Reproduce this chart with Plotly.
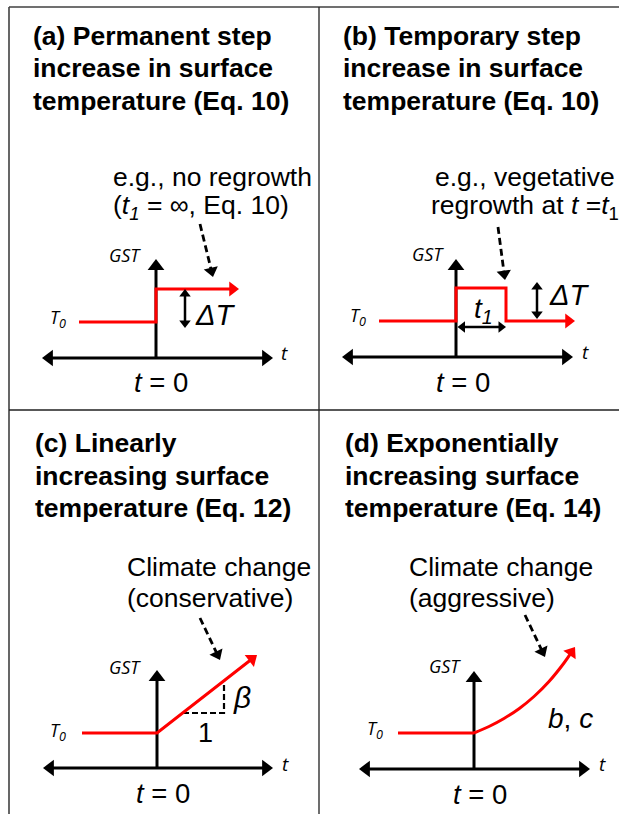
import math
import plotly.graph_objects as go

W, H = 619, 814
S = 100.0  # pixels per schematic unit (same in both directions)

# ---------------- data (schematic units: t along x, GST along y; origin = t=0 on the t-axis)
# axis extents per panel: (t_left, t_right, gst_top)
axis_a = (-1.14, 1.17, 0.99)
axis_b = (-1.14, 1.17, 0.98)
axis_c = (-1.14, 1.16, 0.98)
axis_d = (-1.15, 1.16, 0.98)

# (a) permanent step
a_t = [-0.77, 0.0, 0.0, 0.83]
a_gst = [0.36, 0.36, 0.69, 0.69]
a_dT_t = [0.29, 0.29]
a_dT_gst = [0.69, 0.30]
a_note_t = [0.44, 0.57]
a_note_gst = [1.34, 0.81]

# (b) temporary step
b_t = [-0.77, 0.0, 0.0, 0.50, 0.50, 1.19]
b_gst = [0.36, 0.36, 0.69, 0.69, 0.36, 0.36]
b_dT_t = [0.81, 0.81]
b_dT_gst = [0.75, 0.38]
b_t1_t = [0.015, 0.50]
b_t1_gst = [0.30, 0.30]
b_note_t = [0.42, 0.49]
b_note_gst = [1.30, 0.77]

# (c) linear increase
c_t = [-0.75, 0.0, 1.00]
c_gst = [0.35, 0.35, 1.13]
c_slope_t = [0.26, 0.67, 0.67]
c_slope_gst = [0.55, 0.55, 0.87]
c_note_t = [0.43, 0.63]
c_note_gst = [1.50, 1.08]

# (d) exponential increase
d_flat_t = [-0.76, 0.0]
d_flat_gst = [0.36, 0.36]
d_curve_t = [0.0, 0.15, 0.30, 0.45, 0.60, 0.75, 0.90, 1.01]
d_curve_gst = [0.36, 0.425, 0.505, 0.603, 0.725, 0.875, 1.06, 1.22]
d_note_t = [0.51, 0.71]
d_note_gst = [1.54, 1.12]

# ---------------- layout helpers
# panel: axis suffix, origin pixel (t=0, GST=0), cell in pixels (x0, x1, y0, y1)
panels = {
    "a": ("", (156, 358), (9, 319, 7, 410)),
    "b": ("2", (456, 357), (319, 619, 7, 410)),
    "c": ("3", (157, 768), (9, 319, 410, 814)),
    "d": ("4", (474, 769), (319, 619, 410, 814)),
}

RED = "#FF0000"
BLACK = "#000000"
ARIAL = "Liberation Sans, Arial, sans-serif"
SEGOE = "Open Sans, DejaVu Sans, sans-serif"

fig = go.Figure()


def _tip_center(tip, prev, size):
    dx, dy = tip[0] - prev[0], tip[1] - prev[1]
    L = math.hypot(dx, dy)
    ux, uy = dx / L, dy / L
    r = size / 2.0 / S
    return (tip[0] - ux * r, tip[1] - uy * r), math.degrees(math.atan2(ux, uy))


def arrow(panel, xs, ys, color, width, head, both=False, dash="solid", shape="linear"):
    suf = panels[panel][0]
    xs, ys = list(xs), list(ys)
    lx, ly = xs[:], ys[:]
    mx, my, ang = [], [], []
    (cx, cy), a = _tip_center((xs[-1], ys[-1]), (xs[-2], ys[-2]), head)
    lx[-1], ly[-1] = cx, cy
    mx.append(cx); my.append(cy); ang.append(a)
    if both:
        (sx, sy), a0 = _tip_center((xs[0], ys[0]), (xs[1], ys[1]), head)
        lx[0], ly[0] = sx, sy
        mx.append(sx); my.append(sy); ang.append(a0)
    fig.add_trace(go.Scatter(x=lx, y=ly, mode="lines", xaxis="x" + suf, yaxis="y" + suf,
                             line=dict(color=color, width=width, dash=dash, shape=shape),
                             hoverinfo="skip", showlegend=False))
    fig.add_trace(go.Scatter(x=mx, y=my, mode="markers", xaxis="x" + suf, yaxis="y" + suf,
                             marker=dict(symbol="triangle-up", size=head, angle=ang, color=color,
                                         line=dict(width=0)),
                             hoverinfo="skip", showlegend=False))


def line(panel, xs, ys, color, width, dash="solid", shape="linear"):
    suf = panels[panel][0]
    fig.add_trace(go.Scatter(x=xs, y=ys, mode="lines", xaxis="x" + suf, yaxis="y" + suf,
                             line=dict(color=color, width=width, dash=dash, shape=shape),
                             hoverinfo="skip", showlegend=False))


def axes(panel, ext):
    tl, tr, top = ext
    arrow(panel, [tl, tr], [0, 0], BLACK, 3, 14.5, both=True)
    arrow(panel, [0, 0], [0, top], BLACK, 3, 14.5)


# ---------------- marks
axes("a", axis_a)
axes("b", axis_b)
axes("c", axis_c)
axes("d", axis_d)

DASH = "7px,4px"
# (a)
arrow("a", a_t, a_gst, RED, 3, 13)
arrow("a", a_dT_t, a_dT_gst, BLACK, 2.5, 10, both=True)
arrow("a", a_note_t, a_note_gst, BLACK, 2.8, 12.5, dash=DASH)
# (b)
arrow("b", b_t, b_gst, RED, 3, 13)
arrow("b", b_dT_t, b_dT_gst, BLACK, 2.5, 10, both=True)
arrow("b", b_t1_t, b_t1_gst, BLACK, 2.5, 10, both=True)
arrow("b", b_note_t, b_note_gst, BLACK, 2.8, 12.5, dash=DASH)
# (c)
line("c", c_slope_t, c_slope_gst, BLACK, 2.2, dash="6px,3px")
arrow("c", c_t, c_gst, RED, 3, 13)
arrow("c", c_note_t, c_note_gst, BLACK, 2.8, 12.5, dash=DASH)
# (d)
line("d", d_flat_t, d_flat_gst, RED, 3)
arrow("d", d_curve_t, d_curve_gst, RED, 3, 13, shape="spline")
arrow("d", d_note_t, d_note_gst, BLACK, 2.8, 12.5, dash=DASH)

# ---------------- text (pixel positions converted to paper)
annotations = []


def txt(px, py, text, size, family=ARIAL, xanchor="center"):
    annotations.append(dict(x=px / W, y=1 - py / H, xref="paper", yref="paper", text=text,
                            showarrow=False, xanchor=xanchor, yanchor="middle",
                            font=dict(family=family, size=size, color="black")))


titles = {
    "a": (31, 36, ["(a) Permanent step", "increase in surface", "temperature (Eq. 10)"]),
    "b": (341, 36, ["(b) Temporary step", "increase in surface", "temperature (Eq. 10)"]),
    "c": (33, 443, ["(c) Linearly", "increasing surface", "temperature (Eq. 12)"]),
    "d": (343, 443, ["(d) Exponentially", "increasing surface", "temperature (Eq. 14)"]),
}
for k, (px, py, lines_) in titles.items():
    for i, s in enumerate(lines_):
        txt(px, py + i * 32.5, "<b>" + s + "</b>", 26.5, xanchor="left")

notes = [
    (111, 177, "e.g., no regrowth"),
    (111, 207, "(<i>t</i><sub><i>1</i></sub> = ∞, Eq. 10)"),
    (433, 177, "e.g., vegetative"),
    (429, 207, "regrowth at <i>t</i> =<i>t</i><sub>1</sub>"),
    (125, 567, "Climate change"),
    (125, 598, "(conservative)"),
    (407, 567, "Climate change"),
    (407, 598, "(aggressive)"),
]
for px, py, s in notes:
    txt(px, py, s, 26.5, xanchor="left")

# axis labels
for (gx, gy), (tx, ty), (sx, sy), (zx, zy) in [
    ((125, 255), (58, 318), (284, 353), (161, 382)),
    ((428, 254), (358, 317), (585, 352), (463, 382)),
    ((125, 667), (58, 731), (285, 764), (163, 793)),
    ((445, 666), (375, 729), (602, 764), (480, 794)),
]:
    txt(gx, gy, "<i>GST</i>", 18, family=SEGOE)
    txt(tx, ty, "<i>T<sub>0</sub></i>", 18, family=SEGOE)
    txt(sx, sy, "<i>t</i>", 19, family=SEGOE)
    txt(zx, zy, "<i>t</i> = 0", 27.5)

txt(215, 315, "<i>ΔT</i>", 29)
txt(569, 295, "<i>ΔT</i>", 29)
txt(483, 310, "<i>t</i><sub><i>1</i></sub>", 28)
txt(242, 697, "<i>β</i>", 30)
txt(205, 733, "1", 27)
txt(570, 718, "<i>b</i>, <i>c</i>", 28)

# ---------------- axes & frame
layout_axes = {}
for k, (suf, (ox, oy), (x0, x1, y0, y1)) in panels.items():
    layout_axes["xaxis" + suf] = dict(domain=[x0 / W, x1 / W], range=[(x0 - ox) / S, (x1 - ox) / S],
                                      visible=False, fixedrange=True, anchor="y" + suf)
    layout_axes["yaxis" + suf] = dict(domain=[1 - y1 / H, 1 - y0 / H], range=[(oy - y1) / S, (oy - y0) / S],
                                      visible=False, fixedrange=True, anchor="x" + suf)

shapes = [
    dict(type="line", xref="paper", yref="paper", x0=9 / W, x1=1, y0=1 - 7 / H, y1=1 - 7 / H,
         line=dict(color="#404040", width=1.6)),
    dict(type="line", xref="paper", yref="paper", x0=9 / W, x1=9 / W, y0=0, y1=1 - 7 / H,
         line=dict(color="#404040", width=1.6)),
    dict(type="line", xref="paper", yref="paper", x0=319 / W, x1=319 / W, y0=0, y1=1 - 7 / H,
         line=dict(color="#202020", width=1.3)),
    dict(type="line", xref="paper", yref="paper", x0=9 / W, x1=1, y0=1 - 410 / H, y1=1 - 410 / H,
         line=dict(color="#202020", width=1.3)),
]

fig.update_layout(width=W, height=H, autosize=False, margin=dict(l=0, r=0, t=0, b=0),
                  paper_bgcolor="white", plot_bgcolor="rgba(0,0,0,0)", showlegend=False,
                  annotations=annotations, shapes=shapes, **layout_axes)

fig.write_html("out.html", config={"displayModeBar": False, "staticPlot": True},
               post_script="document.body.style.margin='0px';")
